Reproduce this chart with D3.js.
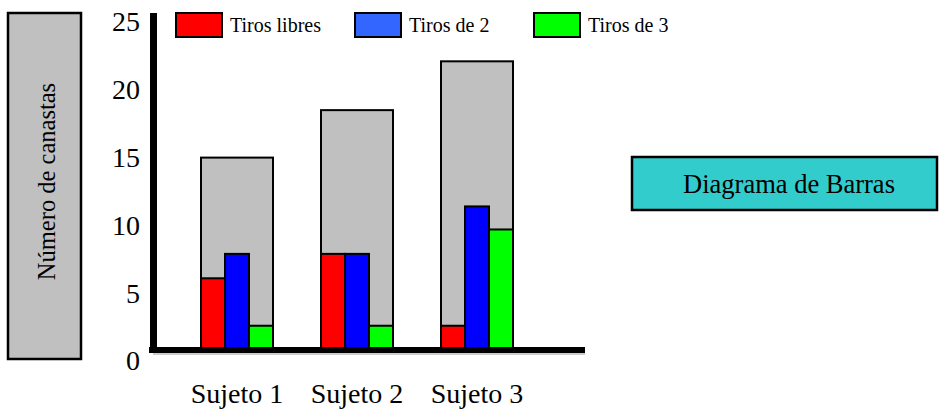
<!DOCTYPE html>
<html><head><meta charset="utf-8">
<script src="https://cdn.jsdelivr.net/npm/d3@7"></script>
<style>
body{margin:0;background:#fff}
svg{display:block}
text{font-family:"Liberation Serif","Times New Roman",serif;fill:#000}
</style>
</head><body><svg width="939" height="410"></svg>
<script>
const categories = ["Sujeto 1", "Sujeto 2", "Sujeto 3"];
const seriesNames = ["Tiros libres", "Tiros de 2", "Tiros de 3"];
const tirosLibres = [6.1, 7.9, 2.6];
const tirosDe2 = [7.9, 7.9, 11.4];
const tirosDe3 = [2.6, 2.6, 9.7];
const totales = [15, 18.5, 22.1];
const yTicks = [0, 5, 10, 15, 20, 25];
const titleText = "Diagrama de Barras";
const yAxisTitle = "Número de canastas";

const barColors = ["#FF0000", "#0000FF", "#00FF00"];
const legendColors = ["#FF0000", "#3366FF", "#00FF00"];
const seriesValues = [tirosLibres, tirosDe2, tirosDe3];

const svg = d3.select("svg");
const baselineY = 350;

const y = d3.scaleLinear().domain([0, 25]).range([361, 22]);
const x0 = d3.scaleBand().domain(categories).range([141, 573]).paddingInner(0.4).paddingOuter(0.5);
const x1 = d3.scaleBand().domain(seriesNames).range([0, x0.bandwidth()]).padding(0);

// Y axis title box
svg.append("rect").attr("x", 8).attr("y", 13).attr("width", 73).attr("height", 346)
  .attr("fill", "#C0C0C0").attr("stroke", "#000").attr("stroke-width", 2.5);
svg.append("text").attr("transform", "translate(55,181.5) rotate(-90)")
  .attr("text-anchor", "middle").style("font-size", "24.5px").text(yAxisTitle);

// Chart title box
svg.append("rect").attr("x", 632).attr("y", 157).attr("width", 305).attr("height", 53)
  .attr("fill", "#33CCCC").attr("stroke", "#000").attr("stroke-width", 2.5);
svg.append("text").attr("x", 789).attr("y", 193).attr("text-anchor", "middle")
  .style("font-size", "26.5px").text(titleText);

// Gray total bars
const groups = svg.append("g").selectAll("g").data(categories).join("g")
  .attr("transform", d => `translate(${x0(d)},0)`);
groups.append("rect")
  .attr("x", 0).attr("width", x0.bandwidth())
  .attr("y", (d, i) => y(totales[i]))
  .attr("height", (d, i) => baselineY - y(totales[i]))
  .attr("fill", "#C0C0C0").attr("stroke", "#000").attr("stroke-width", 2);

// Colored bars
groups.each(function(cat, ci) {
  d3.select(this).selectAll("rect.s").data(seriesNames).join("rect").attr("class", "s")
    .attr("x", s => x1(s)).attr("width", x1.bandwidth())
    .attr("y", (s, si) => y(seriesValues[si][ci]))
    .attr("height", (s, si) => baselineY - y(seriesValues[si][ci]))
    .attr("fill", (s, si) => barColors[si]).attr("stroke", "#000").attr("stroke-width", 2);
});

// Axis lines
svg.append("line").attr("x1", 153).attr("x2", 585).attr("y1", 354).attr("y2", 354)
  .attr("stroke", "#bbb").attr("stroke-width", 1.5);
svg.append("line").attr("x1", 153.5).attr("x2", 153.5).attr("y1", 13).attr("y2", 353)
  .attr("stroke", "#000").attr("stroke-width", 7);
svg.append("line").attr("x1", 149).attr("x2", 585).attr("y1", 350).attr("y2", 350)
  .attr("stroke", "#000").attr("stroke-width", 6);

// Y tick labels
const yAxis = d3.axisLeft(y).tickValues(yTicks).tickSize(0).tickPadding(0);
const gy = svg.append("g").attr("transform", "translate(140,0)").call(yAxis);
gy.select(".domain").remove();
gy.selectAll("text").style("font-size", "28px")
  .style("font-family", '"Liberation Serif","Times New Roman",serif').attr("fill", "#000");

// X tick labels
const xAxis = d3.axisBottom(x0).tickSize(0).tickPadding(0);
const gx = svg.append("g").attr("transform", "translate(0,382)").call(xAxis);
gx.select(".domain").remove();
gx.selectAll("text").style("font-size", "28px")
  .style("font-family", '"Liberation Serif","Times New Roman",serif').attr("fill", "#000")
  .attr("dy", "0.75em");

// Legend
const legend = svg.append("g").selectAll("g").data(seriesNames).join("g")
  .attr("transform", (d, i) => `translate(${176 + i * 179},0)`);
legend.append("rect").attr("x", 0).attr("y", 13).attr("width", 46).attr("height", 24)
  .attr("fill", (d, i) => legendColors[i]).attr("stroke", "#000").attr("stroke-width", 2);
legend.append("text").attr("x", 54).attr("y", 32).style("font-size", "20px").text(d => d);
</script>
</body></html>
